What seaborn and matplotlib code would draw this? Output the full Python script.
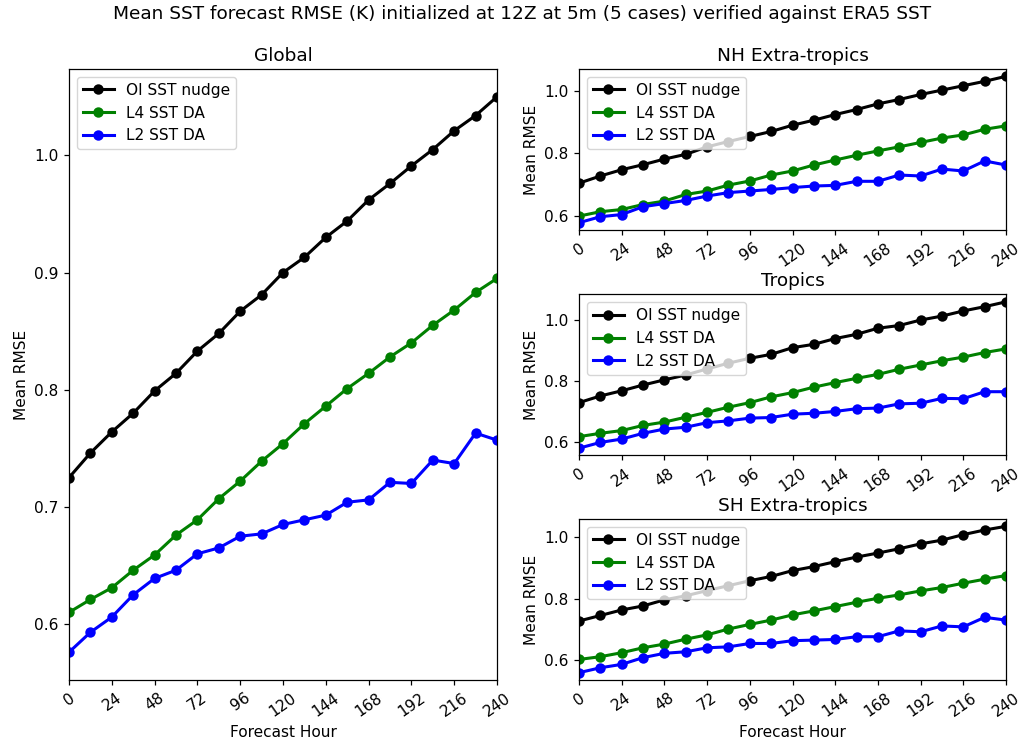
import numpy as np
import pandas as pd
import matplotlib
matplotlib.use("Agg")
import matplotlib.pyplot as plt
import seaborn as sns

# Forecast lead times (hours)
hours = list(range(0, 241, 12))
series_names = ["OI SST nudge", "L4 SST DA", "L2 SST DA"]
series_colors = ["black", "green", "blue"]

# Mean RMSE (K) per region and experiment
global_oi = [0.725, 0.746, 0.764, 0.780, 0.799, 0.814, 0.833, 0.848, 0.867, 0.881, 0.900,
             0.913, 0.930, 0.944, 0.962, 0.976, 0.991, 1.005, 1.021, 1.034, 1.050]
global_l4 = [0.610, 0.621, 0.631, 0.646, 0.659, 0.676, 0.689, 0.707, 0.722, 0.739, 0.754,
             0.771, 0.786, 0.801, 0.814, 0.828, 0.840, 0.855, 0.868, 0.883, 0.895]
global_l2 = [0.576, 0.593, 0.606, 0.625, 0.639, 0.646, 0.660, 0.665, 0.675, 0.677, 0.685,
             0.689, 0.693, 0.704, 0.706, 0.721, 0.720, 0.740, 0.737, 0.763, 0.757]

nh_oi = [0.705, 0.728, 0.748, 0.764, 0.782, 0.797, 0.821, 0.838, 0.854, 0.870, 0.890,
         0.906, 0.924, 0.940, 0.958, 0.972, 0.988, 1.002, 1.016, 1.030, 1.046]
nh_l4 = [0.600, 0.614, 0.621, 0.637, 0.648, 0.669, 0.680, 0.699, 0.712, 0.731, 0.744,
         0.763, 0.779, 0.794, 0.808, 0.821, 0.835, 0.849, 0.859, 0.877, 0.888]
nh_l2 = [0.579, 0.598, 0.605, 0.630, 0.640, 0.650, 0.664, 0.675, 0.680, 0.685, 0.691,
         0.696, 0.698, 0.711, 0.711, 0.731, 0.728, 0.750, 0.744, 0.776, 0.763]

tr_oi = [0.728, 0.750, 0.767, 0.786, 0.803, 0.819, 0.839, 0.858, 0.874, 0.887, 0.909,
         0.920, 0.939, 0.953, 0.973, 0.982, 1.000, 1.013, 1.030, 1.044, 1.060]
tr_l4 = [0.616, 0.627, 0.636, 0.653, 0.664, 0.680, 0.696, 0.713, 0.728, 0.747, 0.761,
         0.779, 0.794, 0.808, 0.821, 0.838, 0.852, 0.866, 0.878, 0.893, 0.905]
tr_l2 = [0.578, 0.597, 0.608, 0.627, 0.641, 0.647, 0.662, 0.668, 0.677, 0.679, 0.690,
         0.693, 0.699, 0.708, 0.710, 0.724, 0.726, 0.742, 0.741, 0.764, 0.764]

sh_oi = [0.727, 0.745, 0.763, 0.776, 0.796, 0.809, 0.826, 0.842, 0.858, 0.872, 0.891,
         0.904, 0.920, 0.935, 0.948, 0.962, 0.978, 0.990, 1.008, 1.023, 1.035]
sh_l4 = [0.602, 0.611, 0.624, 0.640, 0.652, 0.668, 0.682, 0.701, 0.716, 0.730, 0.747,
         0.760, 0.774, 0.788, 0.801, 0.812, 0.825, 0.836, 0.850, 0.863, 0.875]
sh_l2 = [0.559, 0.575, 0.586, 0.608, 0.622, 0.627, 0.640, 0.643, 0.654, 0.654, 0.663,
         0.665, 0.667, 0.676, 0.676, 0.695, 0.692, 0.711, 0.708, 0.739, 0.730]

regions = {
    "Global": [global_oi, global_l4, global_l2],
    "NH Extra-tropics": [nh_oi, nh_l4, nh_l2],
    "Tropics": [tr_oi, tr_l4, tr_l2],
    "SH Extra-tropics": [sh_oi, sh_l4, sh_l2],
}

scale = 1.11
plt.rcParams.update({
    "font.size": 10 * scale,
    "axes.titlesize": 12 * scale,
    "figure.titlesize": 12 * scale,
    "legend.fontsize": 10 * scale,
    "axes.linewidth": 0.8 * scale,
    "xtick.major.size": 3.5 * scale,
    "ytick.major.size": 3.5 * scale,
    "xtick.major.width": 0.8 * scale,
    "ytick.major.width": 0.8 * scale,
})

fig = plt.figure(figsize=(10.21, 7.44), dpi=100)
W, H = 1021.0, 744.0


def px_axes(left, top, right, bottom):
    return fig.add_axes([left / W, 1 - bottom / H, (right - left) / W, (bottom - top) / H])


axes = {
    "Global": px_axes(69, 69, 497, 680),
    "NH Extra-tropics": px_axes(579, 69, 1006, 230),
    "Tropics": px_axes(579, 294.5, 1006, 455.5),
    "SH Extra-tropics": px_axes(579, 519, 1006, 680),
}

for name, ax in axes.items():
    for label, color, values in zip(series_names, series_colors, regions[name]):
        df = pd.DataFrame({"hour": hours, "rmse": values})
        sns.lineplot(data=df, x="hour", y="rmse", ax=ax, color=color, label=label,
                     marker="o", markersize=7.5, markeredgewidth=0, linewidth=2.2,
                     legend=False)
    ax.set_xlim(0, 240)
    ax.set_xticks(range(0, 241, 24))
    for t in ax.get_xticklabels():
        t.set_rotation(35)
    ax.set_title(name)
    ax.set_ylabel("Mean RMSE")
    if name in ("Global", "SH Extra-tropics"):
        ax.set_xlabel("Forecast Hour")
    else:
        ax.set_xlabel("")
    ax.legend(loc="upper left")

fig.suptitle("Mean SST forecast RMSE (K) initialized at 12Z at 5m (5 cases) verified against ERA5 SST",
             x=0.511, y=1 - 14 / H, va="center")

fig.savefig("out.png", dpi=100)
